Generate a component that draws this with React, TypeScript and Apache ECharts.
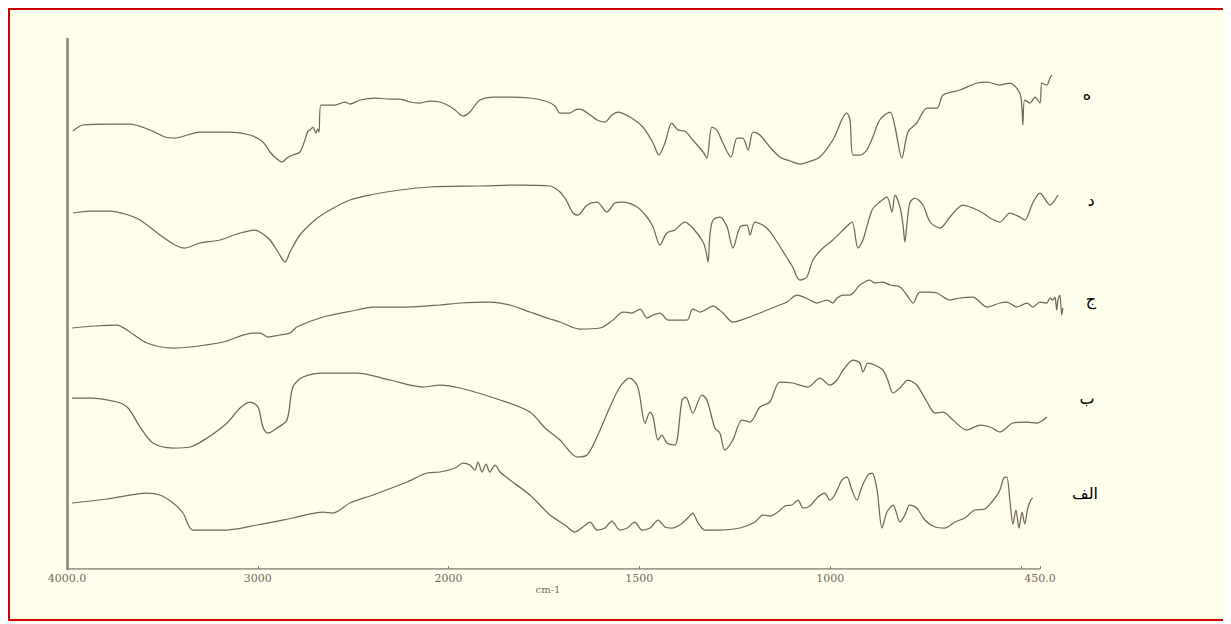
import React, { useEffect, useRef } from "react";
import * as echarts from "echarts";

// Axis ticks (wavenumber, cm-1)
const tickWavenumbers = [4000, 3000, 2000, 1500, 1000, 500, 450];
const tickLabelWavenumbers = [4000, 3000, 2000, 1500, 1000, 450];
const tickLabelTexts = ["4000.0", "3000", "2000", "1500", "1000", "450.0"];
const axisTitle = "cm-1";
const axisStart = 4000;
const axisEnd = 450;
const plotEnd = 380; // spectra run slightly past the last labelled tick

const seriesNames = ["ه", "د", "ج", "ب", "الف"];

// Curve ه (top)
const waveH = [3969, 3916, 3775, 3670, 3565, 3486, 3434, 3303, 3146, 3041, 2973, 2936, 2905, 2873, 2847, 2816, 2779, 2753, 2737, 2726, 2711, 2695, 2685, 2679, 2669, 2595, 2543, 2517, 2464, 2386, 2307, 2255, 2202, 2150, 2098, 2045, 1998, 1983, 1962, 1944, 1918, 1878, 1839, 1787, 1747, 1721, 1708, 1682, 1669, 1656, 1629, 1611, 1590, 1572, 1556, 1525, 1491, 1464, 1449, 1433, 1415, 1399, 1381, 1360, 1333, 1323, 1310, 1297, 1281, 1260, 1244, 1229, 1215, 1202, 1184, 1158, 1132, 1105, 1079, 1058, 1027, 993, 956, 948, 940, 922, 904, 888, 870, 843, 830, 812, 796, 773, 746, 720, 704, 660, 615, 589, 555, 529, 503, 497, 495, 490, 476, 463, 450, 445, 432, 424, 419];
const valH = [438, 444, 445, 445, 439, 432, 431, 437, 437, 434, 427, 417, 411, 407, 411, 414, 417, 429, 438, 439, 442, 436, 440, 437, 464, 464, 467, 465, 469, 471, 470, 470, 467, 466, 468, 467, 463, 459, 453, 457, 469, 472, 472, 471, 468, 463, 456, 456, 459, 460, 454, 449, 447, 454, 457, 452, 442, 426, 414, 426, 446, 439, 438, 429, 417, 411, 442, 439, 426, 412, 431, 431, 419, 437, 434, 422, 412, 408, 405, 407, 412, 429, 456, 449, 414, 414, 419, 432, 449, 457, 442, 411, 437, 446, 461, 461, 474, 479, 486, 487, 484, 486, 476, 459, 444, 469, 466, 472, 466, 486, 484, 491, 494];

// Curve د
const waveD = [3969, 3879, 3775, 3696, 3617, 3513, 3434, 3382, 3303, 3198, 3093, 3015, 2973, 2936, 2894, 2857, 2831, 2779, 2700, 2622, 2517, 2412, 2255, 2098, 1918, 1813, 1734, 1708, 1692, 1674, 1661, 1637, 1611, 1585, 1564, 1543, 1506, 1480, 1464, 1446, 1428, 1407, 1381, 1360, 1333, 1325, 1320, 1315, 1307, 1289, 1270, 1255, 1236, 1218, 1210, 1197, 1166, 1139, 1113, 1098, 1087, 1079, 1061, 1045, 1019, 993, 966, 943, 927, 914, 890, 870, 851, 838, 830, 817, 809, 804, 799, 791, 778, 757, 738, 712, 686, 652, 626, 600, 581, 555, 529, 503, 490, 469, 450, 424, 403];
const valD = [356, 358, 358, 355, 349, 334, 324, 321, 326, 329, 336, 339, 335, 329, 317, 307, 317, 334, 349, 359, 369, 374, 379, 382, 383, 384, 383, 377, 369, 356, 354, 364, 367, 357, 366, 367, 362, 352, 342, 324, 336, 339, 347, 341, 327, 317, 307, 334, 349, 352, 342, 321, 342, 344, 334, 347, 341, 327, 311, 302, 292, 289, 292, 309, 321, 329, 339, 347, 321, 329, 359, 367, 372, 357, 374, 362, 344, 327, 344, 366, 371, 364, 347, 341, 352, 364, 361, 356, 351, 347, 356, 352, 349, 366, 376, 364, 374];

// Curve ج
const waveJ = [3974, 3853, 3738, 3686, 3581, 3444, 3355, 3182, 3025, 2988, 2947, 2884, 2831, 2795, 2658, 2480, 2396, 2218, 2045, 1970, 1892, 1839, 1787, 1734, 1708, 1656, 1603, 1569, 1543, 1519, 1498, 1480, 1464, 1446, 1425, 1402, 1375, 1360, 1341, 1307, 1281, 1255, 1218, 1184, 1139, 1113, 1087, 1053, 1035, 1008, 993, 982, 966, 948, 922, 896, 883, 862, 843, 817, 799, 783, 765, 746, 720, 686, 660, 626, 589, 555, 537, 511, 484, 469, 450, 432, 424, 416, 411, 406, 403, 398, 393, 390];
const valJ = [241, 243, 244, 239, 226, 221, 222, 227, 236, 236, 232, 234, 236, 242, 252, 259, 262, 262, 264, 266, 267, 264, 257, 250, 247, 240, 241, 249, 257, 256, 260, 251, 254, 256, 249, 249, 249, 260, 257, 263, 256, 247, 251, 256, 263, 267, 274, 269, 266, 269, 266, 271, 274, 274, 284, 289, 286, 287, 284, 282, 274, 266, 277, 277, 276, 269, 271, 272, 262, 266, 267, 262, 266, 262, 267, 266, 271, 269, 272, 259, 269, 274, 254, 261];

// Curve ب
const waveB = [3974, 3879, 3738, 3680, 3617, 3549, 3444, 3355, 3266, 3161, 3093, 3041, 2999, 2973, 2947, 2899, 2847, 2816, 2763, 2658, 2480, 2307, 2134, 2045, 1970, 1865, 1787, 1747, 1708, 1663, 1637, 1611, 1577, 1551, 1525, 1504, 1485, 1472, 1464, 1451, 1441, 1428, 1407, 1388, 1378, 1360, 1336, 1323, 1302, 1289, 1276, 1255, 1231, 1210, 1184, 1158, 1132, 1098, 1058, 1027, 1001, 982, 966, 940, 922, 914, 901, 883, 862, 849, 835, 817, 796, 773, 746, 725, 704, 678, 642, 607, 581, 555, 521, 484, 458, 432];
const valB = [171, 171, 167, 161, 142, 126, 121, 122, 131, 146, 161, 167, 162, 142, 136, 141, 149, 182, 192, 196, 196, 189, 182, 184, 181, 169, 157, 141, 129, 112, 114, 132, 162, 182, 191, 182, 146, 157, 152, 129, 134, 126, 124, 169, 172, 156, 174, 169, 141, 136, 119, 129, 149, 147, 162, 167, 187, 186, 182, 191, 184, 189, 199, 209, 206, 197, 206, 204, 199, 189, 176, 181, 189, 184, 167, 156, 157, 149, 139, 144, 142, 137, 146, 147, 146, 152];

// Curve الف (bottom)
const waveA = [3974, 3790, 3581, 3513, 3444, 3392, 3340, 3161, 3004, 2816, 2658, 2606, 2517, 2396, 2218, 2113, 2045, 1983, 1962, 1944, 1931, 1923, 1912, 1902, 1892, 1878, 1865, 1839, 1787, 1734, 1695, 1669, 1648, 1629, 1611, 1590, 1572, 1551, 1532, 1512, 1493, 1472, 1451, 1433, 1415, 1394, 1373, 1360, 1346, 1328, 1289, 1236, 1197, 1176, 1158, 1137, 1118, 1100, 1084, 1071, 1053, 1032, 1014, 1001, 988, 969, 956, 943, 930, 917, 901, 890, 877, 864, 851, 835, 817, 804, 791, 773, 752, 725, 699, 673, 647, 621, 595, 568, 555, 545, 537, 529, 521, 513, 505, 497, 490, 482, 474, 469];
const valA = [66, 70, 76, 74, 66, 56, 39, 39, 44, 51, 57, 56, 66, 74, 87, 96, 97, 101, 106, 104, 99, 107, 97, 105, 97, 104, 97, 89, 74, 54, 44, 37, 42, 47, 39, 41, 48, 39, 41, 47, 39, 41, 49, 42, 41, 44, 51, 56, 46, 39, 39, 41, 47, 54, 53, 57, 63, 64, 69, 61, 63, 72, 76, 69, 74, 89, 92, 79, 69, 82, 94, 96, 79, 41, 57, 64, 47, 54, 64, 61, 49, 42, 41, 47, 51, 59, 60, 71, 79, 91, 92, 69, 45, 59, 41, 57, 45, 61, 69, 71];

const curveWaves = [waveH, waveD, waveJ, waveB, waveA];
const curveValues = [valH, valD, valJ, valB, valA];

// Split-scale FTIR axis: 4000–2000 at one scale, 2000–450 expanded 2x
const toU = (w: number) => (w >= 2000 ? 4000 - w : 2000 + 2 * (2000 - w));

export default function App() {
  const ref = useRef<HTMLDivElement>(null);

  useEffect(() => {
    if (!ref.current) return;
    const chart = echarts.init(ref.current, undefined, { renderer: "svg" });
    const labelMap: Record<number, string> = {};
    tickLabelWavenumbers.forEach((w, i) => (labelMap[toU(w)] = tickLabelTexts[i]));

    const axisColor = "#857a70";
    const lineColor = "#716459";
    const series: any[] = curveWaves.map((waves, k) => ({
      name: seriesNames[k],
      type: "line",
      data: waves.map((w, i) => [toU(w), curveValues[k][i]]),
      showSymbol: false,
      smooth: 0.3,
      lineStyle: { color: lineColor, width: 1.25 },
      silent: true,
    }));
    // the visible x axis line runs from 4000 to 450 only
    series.push({
      name: "axis",
      type: "line",
      data: [
        [toU(axisStart), 0],
        [toU(axisEnd), 0],
      ],
      showSymbol: false,
      lineStyle: { color: axisColor, width: 1.5 },
      silent: true,
      z: 5,
    });

    const labelPos = [
      [1077, 84],
      [1081, 190],
      [1081, 289],
      [1077, 388],
      [1075, 483],
    ];

    chart.setOption({
      animation: false,
      backgroundColor: "transparent",
      grid: { left: 57, right: 160.3, top: 29, bottom: 50 },
      xAxis: {
        type: "value",
        min: 0,
        max: toU(plotEnd),
        axisLine: { show: false },
        axisTick: {
          show: true,
          inside: true,
          length: 3,
          customValues: tickWavenumbers.map(toU),
          lineStyle: { color: axisColor },
        },
        axisLabel: {
          show: true,
          margin: 4,
          fontSize: 11,
          fontFamily: "DejaVu Serif",
          color: "#75695f",
          customValues: tickLabelWavenumbers.map(toU),
          formatter: (v: number) => labelMap[v] ?? "",
        },
        splitLine: { show: false },
      },
      yAxis: {
        type: "value",
        min: 0,
        max: 530,
        axisLine: { show: true, lineStyle: { color: "#8a7f75", width: 2.5 } },
        axisTick: { show: false },
        axisLabel: { show: false },
        splitLine: { show: false },
      },
      series,
      graphic: [
        ...seriesNames.map((n, k) => ({
          type: "text",
          x: labelPos[k][0],
          y: labelPos[k][1],
          style: {
            text: n,
            fontSize: 16,
            fontFamily: "DejaVu Sans",
            fill: "#000000",
            align: "center",
            verticalAlign: "middle",
          },
        })),
        {
          type: "text",
          x: 538,
          y: 579,
          style: {
            text: axisTitle,
            fontSize: 10,
            fontFamily: "DejaVu Serif",
            fill: "#75695f",
            align: "center",
            verticalAlign: "middle",
          },
        },
      ],
    });
    return () => chart.dispose();
  }, []);

  return (
    <div
      style={{
        width: 1221,
        height: 613,
        border: "2px solid #d00000",
        boxSizing: "border-box",
        background: "#FFFEEA",
        position: "relative",
      }}
    >
      <div ref={ref} style={{ position: "absolute", left: 0, top: 0, width: 1217, height: 609 }} />
    </div>
  );
}
